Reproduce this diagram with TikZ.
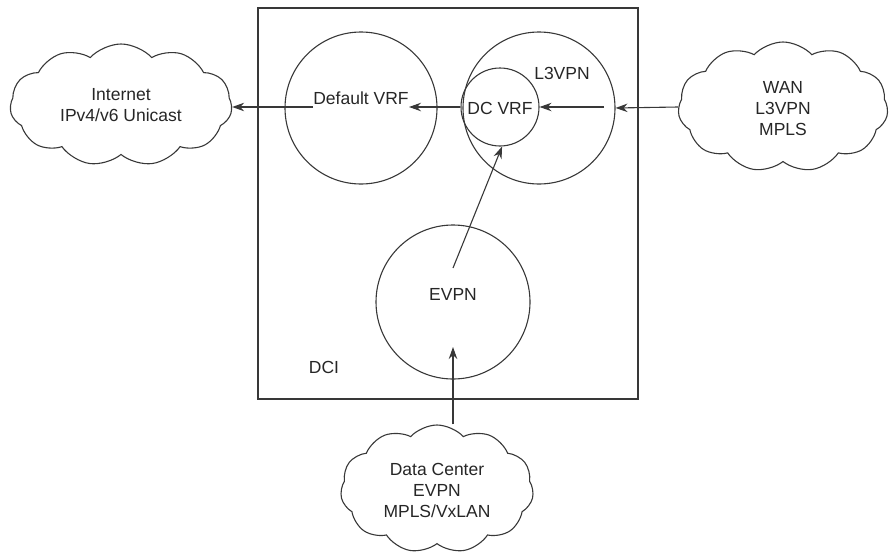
\documentclass[tikz,border=0pt]{standalone}
\usepackage{fontspec}
\setmainfont{Liberation Sans}
\usetikzlibrary{shapes.symbols,arrows.meta}
\begin{document}
\begin{tikzpicture}[x=1pt,y=-1pt,
  ln/.style={draw=black!78,line width=1.1pt},
  circ/.style={ln,circle,inner sep=0pt},
  cloudshape/.style={ln,cloud,cloud puffs=11,cloud puff arc=95,cloud ignores aspect,inner sep=0pt},
  lbl/.style={font=\fontsize{17.5}{21}\selectfont,text=black!85,inner sep=0pt},
  cloudtxt/.style={lbl,align=center},
  arr/.style={ln,-{Stealth[length=12pt,width=8.5pt]}}]
\useasboundingbox (0,0) rectangle (890,554);
% DCI box
\node[ln,rectangle,minimum width=380pt,minimum height=391pt,inner sep=0pt] (dci) at (448,203.5) {};
\node[lbl] (dcilbl) at (324,367) {DCI};
% circles
\node[circ,minimum size=152pt] (defvrf) at (361,108) {};
\node[circ,minimum size=152pt] (l3vpn) at (539,108) {};
\node[circ,minimum size=78pt] (dcvrf) at (500,107) {};
\node[circ,minimum size=154pt] (evpn) at (453,302) {};
% labels
\node[lbl] (deflbl) at (361,98) {Default VRF};
\node[lbl] (l3lbl) at (562,73) {L3VPN};
\node[lbl] (dclbl) at (500,108) {DC VRF};
\node[lbl] (evlbl) at (453,294) {EVPN};
% clouds
\node[cloudshape,minimum width=222pt,minimum height=122pt] (inet) at (121,105) {};
\node[cloudtxt] (inettxt) at (121,105) {Internet\\IPv4/v6 Unicast};
\node[cloudshape,minimum width=210pt,minimum height=130pt] (wan) at (783,107) {};
\node[cloudtxt] (wantxt) at (783,109) {WAN\\L3VPN\\MPLS};
\node[cloudshape,minimum width=193pt,minimum height=128pt] (dc) at (437,489) {};
\node[cloudtxt] (dctxt) at (437,490) {Data Center\\EVPN\\MPLS/VxLAN};
% free ends
\coordinate (c1) at (313,107);
\coordinate (c2) at (409,107);
\coordinate (c3) at (604,107);
\coordinate (c4) at (453,268);
\coordinate (c5) at (453,347);
% connectors
\draw[arr] (c1) -- (inet.east |- c1);
\draw[arr] (dcvrf.west) -- (c2);
\draw[arr] (c3) -- (dcvrf.east);
\draw[arr] (wan.west |- c3) -- (l3vpn.east);
\draw[arr] (c4) -- (dcvrf.-87);
\draw[arr] (c5 |- dc.north) -- (c5);
\end{tikzpicture}
\end{document}
